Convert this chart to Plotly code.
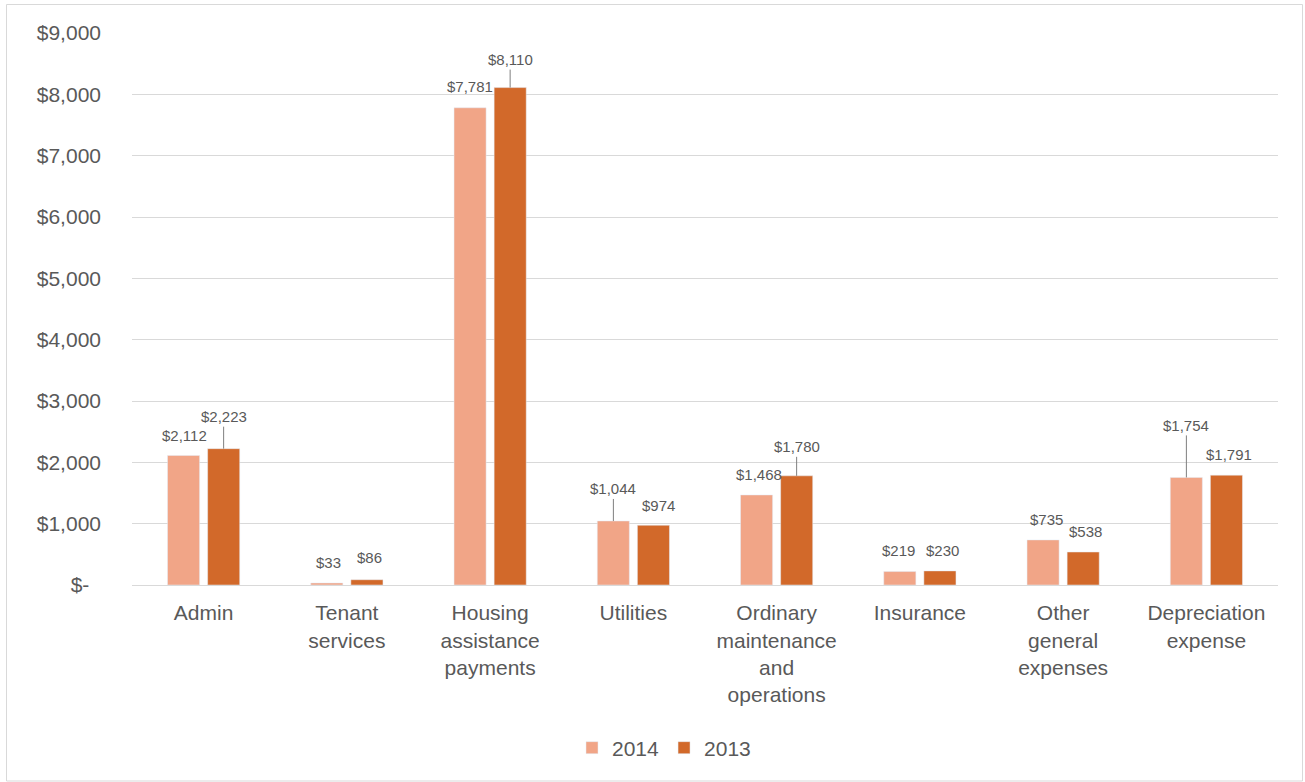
import plotly.graph_objects as go

categories = ["Admin", "Tenant<br>services", "Housing<br>assistance<br>payments", "Utilities",
              "Ordinary<br>maintenance<br>and<br>operations", "Insurance",
              "Other<br>general<br>expenses", "Depreciation<br>expense"]
values_2014 = [2112, 33, 7781, 1044, 1468, 219, 735, 1754]
values_2013 = [2223, 86, 8110, 974, 1780, 230, 538, 1791]
y_tickvals = [0, 1000, 2000, 3000, 4000, 5000, 6000, 7000, 8000, 9000]
y_ticktext = ["$-\u00a0\u00a0", "$1,000", "$2,000", "$3,000", "$4,000", "$5,000",
              "$6,000", "$7,000", "$8,000", "$9,000"]

# data-label placement (pixel offsets of label centre from bar top, leader line flag)
label_pos_2014 = [(1, -20, False), (2, -20, False), (0, -21, False), (0, -32, True),
                  (2, -20, False), (-1, -21, False), (3, -20, False), (0, -52, True)]
label_pos_2013 = [(0, -32, True), (3, -22, False), (0, -28, True), (5, -20, False),
                  (0, -29, True), (3, -20, False), (2, -21, False), (3, -21, False)]

C2014 = "#F1A587"
C2013 = "#D2692A"
TXT = "#595959"
FONT = "Liberation Sans, Arial, sans-serif"

W, H = 1305, 782
L, R, T, B = 132, 27, 33, 197

fig = go.Figure()
fig.add_trace(go.Bar(name="2014", x=categories, y=values_2014, marker_color=C2014))
fig.add_trace(go.Bar(name="2013", x=categories, y=values_2013, marker_color=C2013))

annotations = []
for vals, pos, side in ((values_2014, label_pos_2014, -20), (values_2013, label_pos_2013, 20)):
    for c, v, (dx, dy, leader) in zip(categories, vals, pos):
        txt = "$" + format(v, ",")
        if leader:
            annotations.append(dict(x=c, y=v, xref="x", yref="y", text=txt, showarrow=True,
                                    ax=dx, ay=dy, xshift=side, arrowhead=0, arrowwidth=1,
                                    arrowcolor="#7F7F7F", standoff=0, borderpad=1,
                                    font=dict(size=15, color=TXT, family=FONT)))
        else:
            annotations.append(dict(x=c, y=v, xref="x", yref="y", text=txt, showarrow=False,
                                    xshift=side + dx, yshift=-dy, yanchor="middle",
                                    font=dict(size=15, color=TXT, family=FONT)))

pw = W - L - R
ph = H - T - B
def px_x(p):
    return (p - L) / pw
def px_y(p):
    return (H - B - p) / ph

fig.add_shape(type="rect", xref="paper", yref="paper",
              x0=px_x(6.5), x1=px_x(1302.5), y0=px_y(781), y1=px_y(4.5),
              line=dict(color="#D9D9D9", width=1), fillcolor="rgba(0,0,0,0)", layer="below")

fig.update_layout(
    width=W, height=H,
    margin=dict(l=L, r=R, t=T, b=B, autoexpand=False),
    paper_bgcolor="white", plot_bgcolor="white",
    barmode="group", bargap=0.44, bargroupgap=0.2,
    font=dict(family=FONT, color=TXT, size=21),
    annotations=annotations,
    showlegend=True,
    legend=dict(orientation="h", x=px_x(664), xanchor="center", y=px_y(748), yanchor="middle",
                font=dict(size=21, color=TXT, family=FONT), itemclick=False,
                traceorder="normal", bgcolor="rgba(0,0,0,0)"),
    xaxis=dict(type="category", showgrid=False, showline=True, linecolor="#D9D9D9",
               linewidth=1, ticks="", tickfont=dict(size=21, color=TXT),
               ticklabelstandoff=9, fixedrange=True),
    yaxis=dict(range=[0, 9000], tickvals=y_tickvals, ticktext=y_ticktext,
               showgrid=True, gridcolor="#D9D9D9", gridwidth=1, zeroline=False,
               showline=False, ticks="", tickfont=dict(size=21, color=TXT),
               ticklabelstandoff=30, fixedrange=True),
)

fig.write_html("out.html")
